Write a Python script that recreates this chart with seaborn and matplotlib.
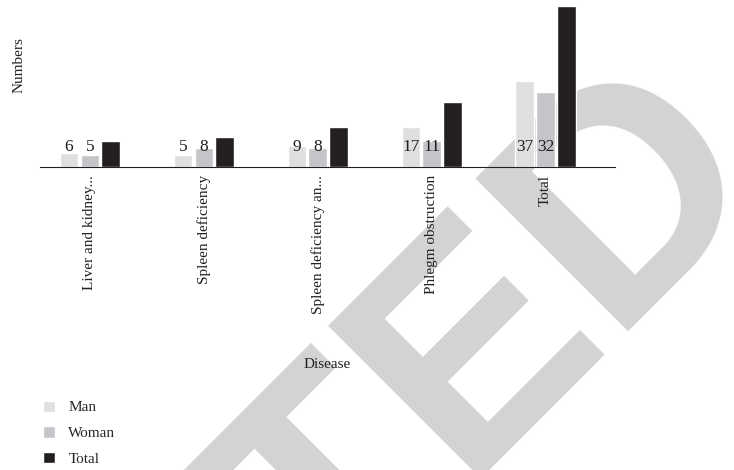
import matplotlib
matplotlib.use("Agg")
import matplotlib.pyplot as plt
import seaborn as sns
import pandas as pd

diseases = ["Liver and kidney...", "Spleen deficiency", "Spleen deficiency an...",
            "Phlegm obstruction", "Total"]
man = [6, 5, 9, 17, 37]
woman = [5, 8, 8, 11, 32]
total = [11, 13, 17, 28, 69]
groups = ["Man", "Woman", "Total"]
colors = ["#dedfe1", "#c4c5c9", "#231f20"]

df = pd.DataFrame({
    "Disease": diseases * 3,
    "Numbers": man + woman + total,
    "Group": [g for g in groups for _ in diseases],
})

sns.set_style("white")
plt.rcParams["font.family"] = ["Liberation Serif", "DejaVu Serif"]

fig = plt.figure(figsize=(7.34, 4.70), dpi=100)
ax = fig.add_axes([0.054, 0.645, 0.784, 0.345])
ax.patch.set_alpha(0)

# watermark behind the chart
fig.text(1.046, 0.636, "RETRACTED", fontsize=225, fontweight="bold",
         family="Liberation Sans", color="#d3d3d3", rotation=45,
         rotation_mode="anchor", ha="right", va="baseline", zorder=-1)

sns.barplot(data=df, x="Disease", y="Numbers", hue="Group", palette=colors,
            width=0.55, gap=0.12, ax=ax, legend=True, saturation=1)

for cont, vals in zip(ax.containers[:2], [man, woman]):
    for bar, v in zip(cont, vals):
        ax.text(bar.get_x() + bar.get_width() / 2, 8.6, str(v),
                ha="center", va="center", fontsize=12.5, color="#231f20")

ax.set_xlim(-0.44, 4.61)
ax.set_ylim(0, 69.5)
ax.set_yticks([])
sns.despine(ax=ax, left=True)
ax.spines["bottom"].set_color("#231f20")
ax.tick_params(axis="x", length=0, pad=6)
plt.setp(ax.get_xticklabels(), rotation=90, fontsize=11, color="#231f20")

ax.set_ylabel("Numbers", fontsize=11, color="#231f20")
ax.yaxis.set_label_coords(-0.025, 0.63)
ax.set_xlabel("Disease", fontsize=11, color="#231f20")
ax.xaxis.set_label_coords(0.5, -1.18)

handles, labels = ax.get_legend_handles_labels()
ax.legend(handles, labels, loc="upper left", bbox_to_anchor=(0.040, 0.177),
          bbox_transform=fig.transFigure, frameon=False, fontsize=11,
          handlelength=0.75, handleheight=0.75, labelspacing=0.78, handletextpad=0.9)

fig.savefig("out.png", dpi=100)
